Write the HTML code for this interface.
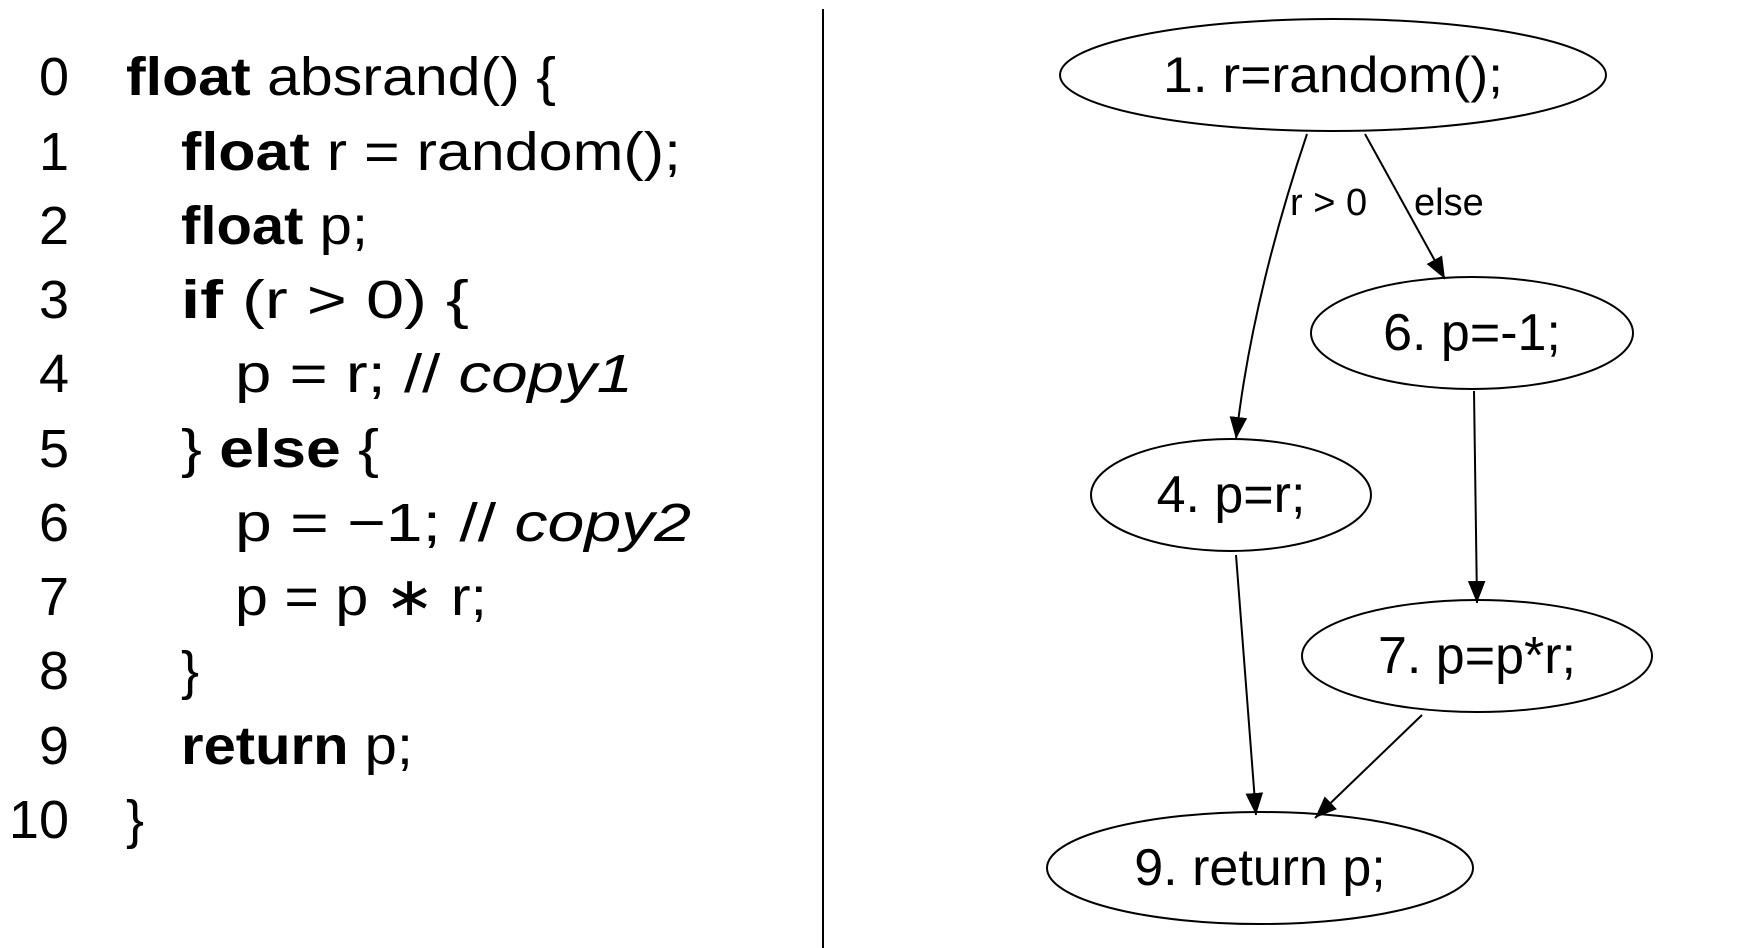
<!DOCTYPE html>
<html><head><meta charset="utf-8"><style>
html,body{margin:0;padding:0;background:#fff;}
svg{display:block;}
.c{font-family:"Liberation Sans",sans-serif;font-size:54px;fill:#000;}
.g{font-family:"Liberation Sans",sans-serif;font-size:50px;fill:#000;}
.l{font-family:"Liberation Sans",sans-serif;font-size:38px;fill:#000;}
</style></head><body>
<svg width="1742" height="948" viewBox="0 0 1742 948" xmlns="http://www.w3.org/2000/svg">
<defs><marker id="a" viewBox="0 0 10 10" refX="10" refY="5" markerWidth="22" markerHeight="22" markerUnits="userSpaceOnUse" orient="auto"><path d="M0,1 L10,5 L0,9 z" fill="#000"/></marker></defs>
<line x1="823" y1="9" x2="823" y2="948" stroke="#000" stroke-width="2"/>
<g class="c" text-anchor="end">
<text x="69" y="95">0</text><text x="69" y="170">1</text><text x="69" y="244">2</text><text x="69" y="318">3</text><text x="69" y="392">4</text><text x="69" y="467">5</text><text x="69" y="541">6</text><text x="69" y="615">7</text><text x="69" y="689">8</text><text x="69" y="764">9</text><text x="69" y="838">10</text>
</g>
<g class="c">
<text x="126" y="95" textLength="430" lengthAdjust="spacingAndGlyphs"><tspan font-weight="bold">float</tspan> absrand() {</text>
<text x="181" y="170" textLength="500" lengthAdjust="spacingAndGlyphs"><tspan font-weight="bold">float</tspan> r = random();</text>
<text x="181" y="244" textLength="187" lengthAdjust="spacingAndGlyphs"><tspan font-weight="bold">float</tspan> p;</text>
<text x="181" y="318" textLength="288" lengthAdjust="spacingAndGlyphs"><tspan font-weight="bold">if</tspan> (r &gt; 0) {</text>
<text x="235" y="392" textLength="398" lengthAdjust="spacingAndGlyphs">p = r; // <tspan font-style="italic">copy1</tspan></text>
<text x="181" y="467" textLength="198" lengthAdjust="spacingAndGlyphs">} <tspan font-weight="bold">else</tspan> {</text>
<text x="235" y="541" textLength="456" lengthAdjust="spacingAndGlyphs">p = −1; // <tspan font-style="italic">copy2</tspan></text>
<text x="235" y="615" textLength="252" lengthAdjust="spacingAndGlyphs">p = p ∗ r;</text>
<text x="181" y="689">}</text>
<text x="181" y="764" textLength="232" lengthAdjust="spacingAndGlyphs"><tspan font-weight="bold">return</tspan> p;</text>
<text x="126" y="838">}</text>
</g>
<g transform="translate(-7,0)">
<g fill="none" stroke="#000" stroke-width="2">
<ellipse cx="1340" cy="75" rx="273" ry="56"/>
<ellipse cx="1479" cy="333" rx="161" ry="56"/>
<ellipse cx="1238" cy="495" rx="140" ry="56"/>
<ellipse cx="1484" cy="656" rx="175" ry="56"/>
<ellipse cx="1267" cy="868" rx="213" ry="56"/>
<path d="M1314,134 C1285,220 1255,330 1243,439" marker-end="url(#a)"/>
<path d="M1372,134 L1452,279" marker-end="url(#a)"/>
<path d="M1481,391 L1484,603" marker-end="url(#a)"/>
<path d="M1243,555 L1263,815" marker-end="url(#a)"/>
<path d="M1429,715 L1322,818" marker-end="url(#a)"/>
</g>
<g class="g" text-anchor="middle">
<text x="1340" y="92" textLength="340" lengthAdjust="spacingAndGlyphs">1. r=random();</text>
<text x="1479" y="350" font-size="52">6. p=-1;</text>
<text x="1238" y="512" font-size="52">4. p=r;</text>
<text x="1484" y="673" font-size="52">7. p=p*r;</text>
<text x="1267" y="885" font-size="52">9. return p;</text>
</g>
<text class="l" x="1297" y="215">r &gt; 0</text>
<text class="l" x="1421" y="215">else</text>
</g>
</svg>
</body></html>
